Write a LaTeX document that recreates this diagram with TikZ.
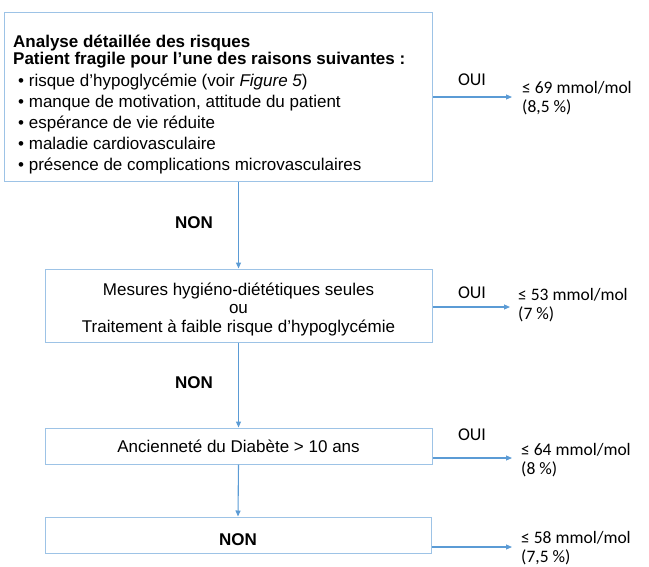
\documentclass[tikz,border=0pt]{standalone}
\usepackage{fontspec}
\setmainfont{Liberation Sans}
\newfontfamily\calibri{Carlito}
\usetikzlibrary{arrows.meta}
\definecolor{boxblue}{RGB}{157,195,230}
\definecolor{arrowblue}{RGB}{91,155,213}
\tikzset{
  box/.style={draw=boxblue, line width=1pt, inner sep=0pt, align=center,
    font=\fontsize{17}{18.5}\selectfont},
  txt/.style={inner sep=0pt, align=center, font=\fontsize{17}{18.5}\selectfont},
  arr/.style={draw=arrowblue, line width=1.1pt, -{Triangle[length=6pt,width=5pt]}},
  lab/.style={font=\bfseries\fontsize{17}{19}\selectfont, inner sep=0pt},
  res/.style={font=\calibri\fontsize{17.5}{19.5}\selectfont, align=left,
    anchor=base west, inner sep=0pt},
  oui/.style={font=\calibri\fontsize{18}{20}\selectfont, anchor=base, inner sep=0pt}
}
\begin{document}
\begin{tikzpicture}[x=1pt,y=-1pt]
      \useasboundingbox (0,0) rectangle (649,566);
      % the four boxes
      \node[box, anchor=north west, minimum width=428pt, minimum height=169pt] (b1) at (4,12) {};
      \node[box, minimum width=387pt, minimum height=73pt] (b2) at (238.5,305.5) {};
      \node[box, minimum width=387pt, minimum height=36pt] (b3) at (238.5,446)
        {Ancienneté du Diabète > 10 ans};
      \node[box, minimum width=386pt, minimum height=36pt] (b4) at (238,535) {};
      \node[txt] (t3) at ([yshift=-3.5pt]b2.center)
        {Mesures hygiéno-diététiques seules\\ou\\Traitement à faible risque d’hypoglycémie};
      \node[lab] (t4) at ([yshift=-5pt]b4.center) {NON};
      % text of the first box (base = last line)
      \node[anchor=base west, align=left, inner sep=0pt, font=\bfseries\fontsize{17}{17}\selectfont] (t1) at (13,64)
        {Analyse détaillée des risques\\Patient fragile pour l’une des raisons suivantes :};
      \node[anchor=base west, align=left, inner sep=0pt, font=\fontsize{17}{21}\selectfont] (t2) at (18,170)
        {• risque d’hypoglycémie (voir \textit{Figure 5})\\
         • manque de motivation, attitude du patient\\
         • espérance de vie réduite\\
         • maladie cardiovasculaire\\
         • présence de complications microvasculaires};
      % NON
      \node[lab] (n1) at (194,223) {NON};
      \node[lab] (n2) at (194,383) {NON};
      \draw[arr] (b2.north |- b1.south) -- (b2.north);
      \draw[arr] (b2.south) -- (b3.north);
      \draw[arr] (b3.south) -- (b4.north);
      % OUI
      \coordinate (e1) at (512,97);
      \coordinate (e2) at (510,307);
      \coordinate (e3) at (512,458);
      \coordinate (e4) at (512,547);
      \draw[arr] (b1.east |- e1) -- (e1);
      \draw[arr] (b2.east |- e2) -- (e2);
      \draw[arr] (b3.east |- e3) -- (e3);
      \draw[arr] (b4.east |- e4) -- (e4);
      \node[oui] (o1) at (472,85) {OUI};
      \node[oui] (o2) at (472,298) {OUI};
      \node[oui] (o3) at (472,440) {OUI};
      \node[res] (r1) at (522,112.5) {≤ 69 mmol/mol\\(8,5 \%)};
      \node[res] (r2) at (518,319.5) {≤ 53 mmol/mol\\(7 \%)};
      \node[res] (r3) at (521,474.5) {≤ 64 mmol/mol\\(8 \%)};
      \node[res] (r4) at (521,562.5) {≤ 58 mmol/mol\\(7,5 \%)};
\end{tikzpicture}
\end{document}
